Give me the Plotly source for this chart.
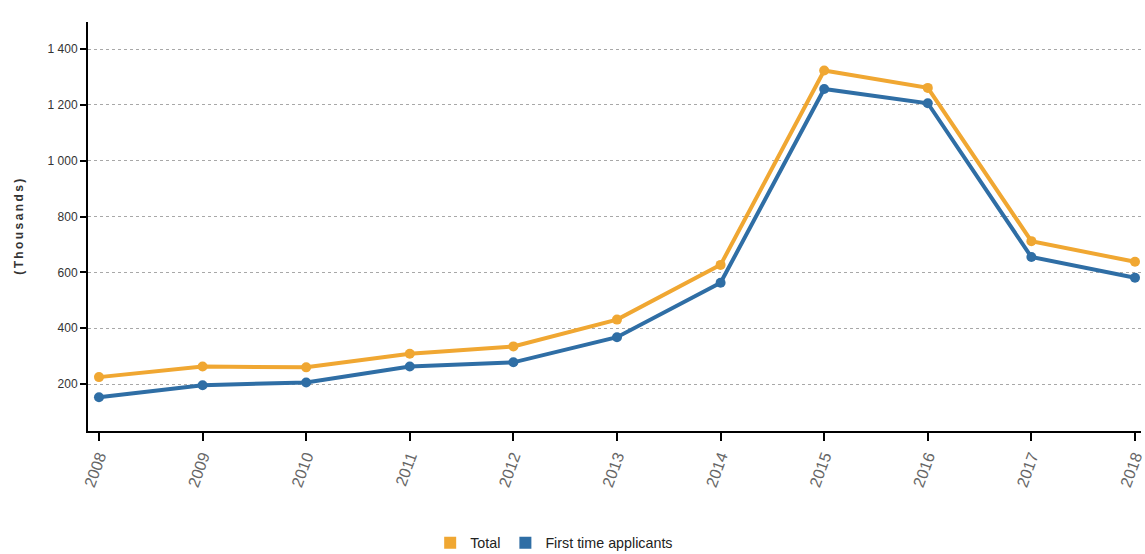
import plotly.graph_objects as go

years = [2008, 2009, 2010, 2011, 2012, 2013, 2014, 2015, 2016, 2017, 2018]
total = [225, 263, 260, 309, 335, 431, 627, 1323, 1261, 712, 638]
first_time = [153, 196, 206, 263, 278, 368, 563, 1257, 1206, 655, 581]
y_ticks = [200, 400, 600, 800, 1000, 1200, 1400]

c_total = "#F0A732"
c_first = "#2F6EA5"
font_main = "Liberation Sans"

fig = go.Figure()
fig.add_trace(go.Scatter(x=years, y=total, mode="lines+markers", name="Total",
                         line=dict(color=c_total, width=4), marker=dict(size=10, color=c_total),
                         showlegend=False))
fig.add_trace(go.Scatter(x=years, y=first_time, mode="lines+markers", name="First time applicants",
                         line=dict(color=c_first, width=4), marker=dict(size=10, color=c_first),
                         showlegend=False))
# legend entries with square symbols
fig.add_trace(go.Scatter(x=[None], y=[None], mode="markers", name="Total",
                         marker=dict(symbol="square", size=12, color=c_total)))
fig.add_trace(go.Scatter(x=[None], y=[None], mode="markers", name="First time applicants",
                         marker=dict(symbol="square", size=12, color=c_first)))

ytitle = "\u2009".join("(Thousands)")

fig.update_layout(
    width=1145, height=554,
    margin=dict(l=88, r=0, t=22, b=123),
    paper_bgcolor="white", plot_bgcolor="white",
    separators=". ",
    font=dict(family=font_main, color="#333333", size=12),
    showlegend=True,
    legend=dict(orientation="h", xref="container", yref="container",
                x=0.484, xanchor="center", y=1 - 543 / 554, yanchor="middle",
                font=dict(family="Liberation Sans Narrow, Liberation Sans", size=14.3, color="#222222"),
                itemwidth=30, tracegroupgap=0),
    xaxis=dict(range=[2007.894, 2018.058], tickvals=years, ticktext=[str(y) for y in years],
               tickangle=-70, showgrid=False, zeroline=False,
               showline=True, linecolor="black", linewidth=2,
               ticks="outside", ticklen=8, tickcolor="black", tickwidth=1.5,
               ticklabeloverflow="allow",
               tickfont=dict(size=16, color="#666666")),
    yaxis=dict(range=[32, 1497], tickvals=y_ticks, tickformat=",d",
               showgrid=True, gridcolor="#a8a8a8", griddash="dot", gridwidth=1,
               zeroline=False, showline=True, linecolor="black", linewidth=2,
               ticks="outside", ticklen=6, tickcolor="black", tickwidth=1.5,
               tickfont=dict(size=12, color="#333333")),
    annotations=[dict(text="<b>" + ytitle + "</b>", xref="paper", yref="paper",
                      x=(18 - 88) / 1057, y=0.5, xanchor="center", yanchor="middle",
                      textangle=-90, showarrow=False,
                      font=dict(size=12, color="#333333", family=font_main))],
)

fig.write_html("out.html", config={"displayModeBar": False},
               post_script="document.body.style.margin='0';")
